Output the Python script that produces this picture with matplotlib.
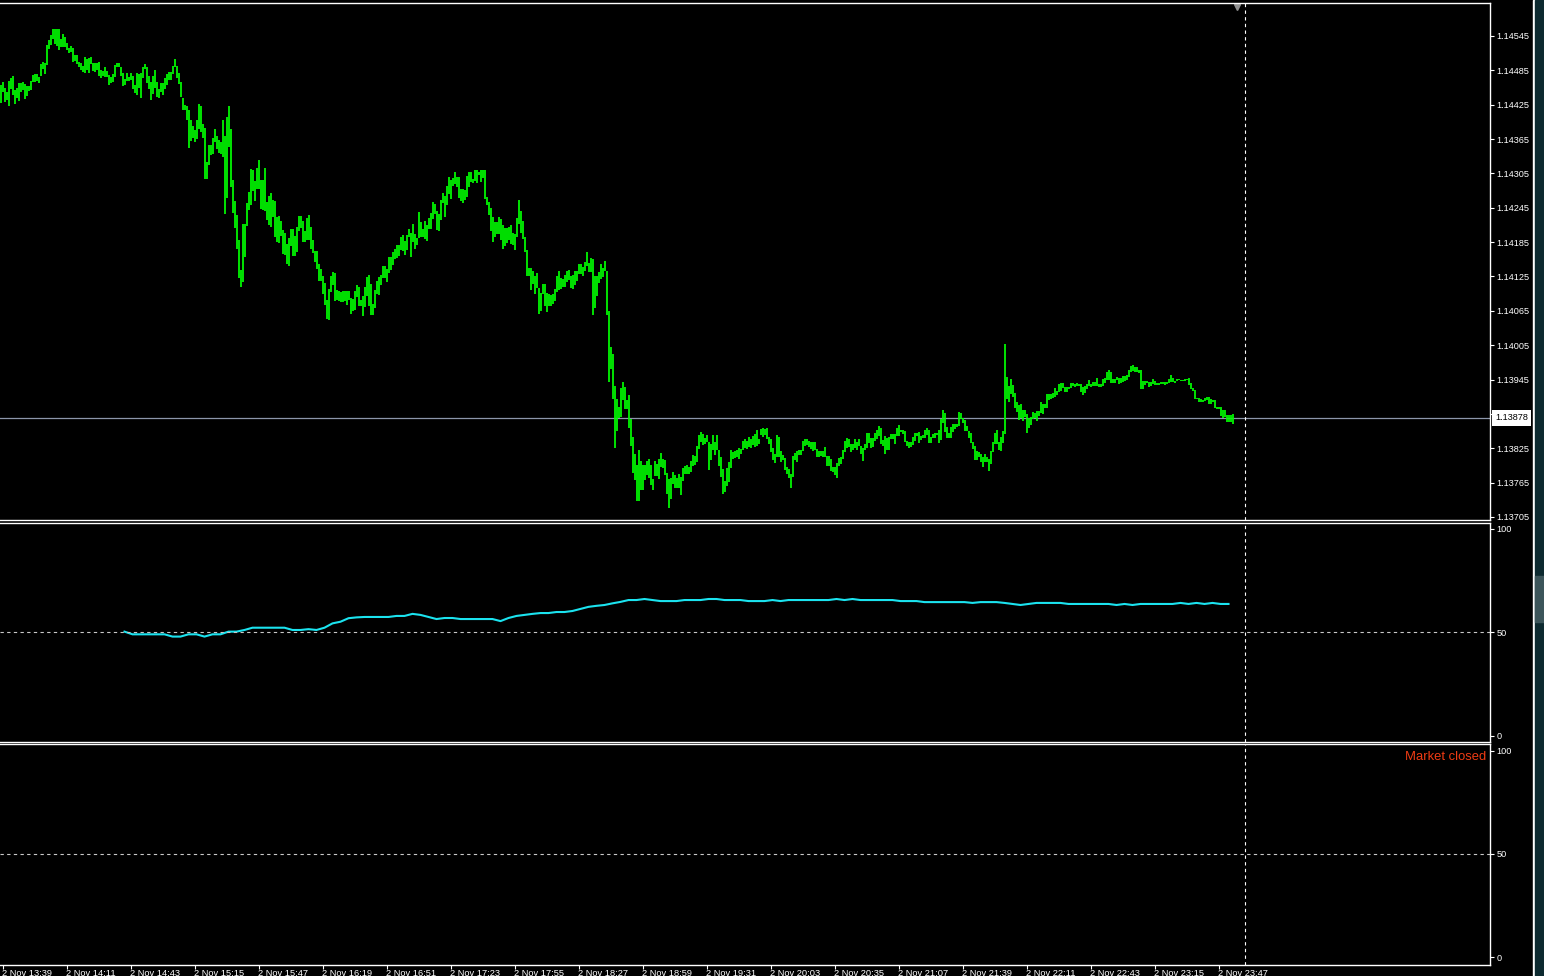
import numpy as np
import matplotlib.pyplot as plt
from matplotlib.transforms import blended_transform_factory
from matplotlib.patches import Rectangle

plt.rcParams['font.family'] = ['Liberation Sans', 'DejaVu Sans']

# prices are stored as points (0.00001) above BASE
BASE = 1.13700
POINT = 0.00001

high_pts = [
    760, 765, 754, 747, 767, 772, 775, 751, 754, 763,
    763, 765, 761, 758, 758, 767, 777, 779, 779, 773,
    796, 800, 798, 829, 838, 847, 857, 857, 857, 857,
    840, 849, 843, 833, 824, 828, 824, 812, 812, 800,
    798, 793, 808, 805, 807, 808, 798, 798, 798, 800,
    786, 784, 791, 784, 777, 774, 779, 795, 798, 798,
    791, 781, 770, 781, 774, 781, 775, 760, 781, 779,
    781, 791, 796, 791, 775, 765, 775, 786, 765, 753,
    763, 763, 772, 779, 782, 782, 793, 805, 793, 781,
    765, 737, 725, 723, 716, 698, 688, 681, 698, 726,
    723, 691, 684, 625, 655, 654, 667, 683, 671, 663,
    660, 698, 671, 704, 723, 683, 594, 557, 533, 489,
    436, 517, 517, 554, 573, 613, 611, 592, 615, 629,
    594, 594, 615, 555, 566, 571, 559, 557, 529, 531,
    522, 506, 501, 482, 492, 508, 508, 496, 511, 531,
    531, 522, 505, 527, 533, 511, 489, 470, 470, 447,
    438, 426, 413, 384, 403, 426, 433, 431, 402, 400,
    398, 400, 400, 400, 400, 388, 386, 400, 410, 407,
    384, 391, 407, 424, 428, 412, 377, 402, 417, 424,
    428, 443, 443, 438, 459, 459, 468, 473, 480, 480,
    494, 497, 487, 497, 508, 501, 517, 499, 492, 538,
    520, 508, 522, 515, 527, 536, 555, 552, 540, 534,
    559, 571, 566, 583, 599, 594, 597, 608, 599, 599,
    578, 578, 576, 601, 608, 608, 595, 611, 611, 608,
    611, 611, 611, 564, 555, 545, 529, 520, 520, 529,
    526, 515, 510, 510, 512, 515, 501, 499, 527, 559,
    540, 522, 494, 471, 440, 440, 435, 426, 431, 405,
    396, 412, 412, 396, 394, 393, 394, 403, 426, 435,
    422, 421, 428, 435, 436, 426, 428, 435, 435, 447,
    447, 442, 450, 468, 449, 457, 456, 426, 426, 433,
    447, 440, 452, 435, 365, 302, 290, 234, 211, 197,
    230, 241, 232, 209, 218, 176, 145, 115, 96, 122,
    103, 96, 96, 103, 106, 96, 71, 103, 98, 106,
    117, 106, 105, 82, 71, 73, 84, 78, 73, 80,
    75, 90, 94, 96, 92, 103, 113, 112, 129, 148,
    154, 150, 143, 148, 136, 133, 148, 136, 148, 122,
    110, 89, 68, 90, 101, 122, 119, 120, 122, 126,
    124, 138, 141, 138, 145, 141, 147, 150, 157, 141,
    159, 160, 159, 160, 145, 141, 126, 115, 148, 145,
    120, 113, 108, 92, 89, 80, 112, 117, 120, 122,
    122, 138, 141, 141, 138, 136, 136, 136, 124, 120,
    120, 120, 127, 112, 112, 106, 92, 92, 99, 108,
    110, 122, 138, 143, 141, 133, 133, 141, 136, 141,
    129, 126, 133, 152, 152, 143, 143, 152, 157, 164,
    160, 140, 147, 143, 145, 150, 150, 150, 160, 166,
    157, 157, 155, 138, 136, 136, 145, 152, 152, 154,
    147, 148, 157, 160, 157, 145, 150, 152, 152, 157,
    176, 192, 186, 162, 152, 162, 167, 167, 167, 188,
    187, 178, 174, 164, 155, 152, 136, 129, 120, 119,
    115, 110, 115, 110, 106, 120, 136, 152, 157, 136,
    145, 155, 307, 250, 234, 246, 236, 222, 206, 201,
    203, 192, 192, 185, 178, 180, 188, 187, 190, 190,
    206, 202, 202, 220, 220, 220, 222, 230, 225, 237,
    239, 239, 232, 232, 232, 239, 239, 237, 239, 237,
    237, 232, 234, 237, 244, 237, 241, 241, 248, 237,
    237, 246, 248, 258, 262, 258, 246, 246, 250, 248,
    248, 251, 251, 253, 262, 269, 270, 267, 267, 262,
    262, 243, 243, 243, 241, 241, 246, 243, 239, 239,
    241, 241, 241, 241, 246, 253, 248, 243, 246, 246,
    244, 244, 246, 246, 248, 239, 230, 227, 213, 213,
    211, 209, 213, 215, 215, 211, 209, 209, 197, 197,
    197, 192, 192, 183, 183, 183, 185,
]

low_pts = [
    728, 747, 730, 733, 723, 753, 742, 726, 737, 732,
    747, 751, 735, 740, 749, 751, 765, 765, 767, 763,
    775, 788, 779, 794, 822, 829, 840, 831, 828, 821,
    826, 826, 826, 821, 815, 817, 800, 801, 796, 791,
    786, 782, 781, 786, 781, 796, 784, 782, 786, 775,
    772, 775, 774, 774, 760, 763, 765, 774, 790, 790,
    775, 758, 760, 767, 767, 768, 753, 746, 742, 754,
    737, 772, 788, 763, 753, 733, 744, 754, 739, 737,
    747, 742, 753, 760, 768, 768, 779, 790, 772, 761,
    739, 716, 716, 698, 650, 662, 667, 660, 665, 683,
    677, 667, 595, 595, 620, 637, 639, 660, 648, 641,
    639, 634, 534, 562, 651, 582, 536, 510, 473, 422,
    407, 415, 459, 513, 541, 550, 574, 557, 578, 578,
    543, 541, 540, 524, 515, 512, 529, 494, 485, 484,
    496, 464, 463, 447, 443, 478, 461, 461, 468, 505,
    510, 485, 485, 489, 489, 473, 466, 450, 438, 417,
    417, 394, 375, 351, 349, 398, 410, 382, 384, 382,
    381, 381, 382, 375, 384, 360, 365, 367, 389, 374,
    374, 356, 372, 391, 374, 358, 358, 370, 395, 393,
    410, 422, 422, 415, 431, 436, 445, 456, 457, 461,
    471, 470, 463, 471, 494, 459, 485, 473, 480, 492,
    494, 494, 491, 487, 508, 508, 526, 534, 506, 505,
    524, 553, 529, 550, 569, 560, 583, 587, 581, 562,
    557, 554, 559, 564, 581, 590, 588, 592, 588, 602,
    590, 597, 560, 550, 533, 505, 485, 494, 499, 499,
    489, 473, 478, 484, 489, 482, 480, 471, 494, 517,
    501, 491, 468, 426, 426, 402, 412, 394, 405, 360,
    365, 394, 374, 363, 374, 374, 377, 382, 398, 402,
    403, 407, 407, 415, 419, 405, 403, 410, 417, 429,
    429, 426, 435, 443, 433, 433, 358, 370, 391, 414,
    421, 424, 435, 358, 241, 264, 211, 126, 155, 178,
    180, 209, 194, 194, 160, 129, 82, 70, 33, 33,
    52, 52, 70, 78, 73, 61, 52, 77, 77, 71,
    92, 91, 78, 45, 20, 37, 63, 56, 56, 56,
    43, 68, 80, 80, 80, 84, 94, 96, 101, 124,
    136, 131, 133, 136, 87, 105, 122, 113, 122, 94,
    75, 45, 49, 59, 66, 90, 106, 108, 110, 106,
    115, 122, 126, 124, 127, 126, 131, 127, 129, 133,
    148, 145, 148, 141, 133, 119, 105, 99, 110, 110,
    101, 105, 87, 80, 73, 56, 75, 105, 101, 113,
    113, 120, 129, 131, 127, 124, 120, 122, 110, 110,
    112, 110, 110, 94, 94, 85, 84, 78, 73, 94,
    98, 106, 119, 126, 127, 119, 122, 126, 122, 129,
    115, 103, 122, 126, 134, 126, 127, 138, 141, 147,
    133, 129, 115, 122, 122, 141, 141, 133, 147, 147,
    153, 150, 136, 129, 126, 127, 131, 138, 147, 134,
    140, 143, 143, 148, 134, 134, 143, 143, 148, 134,
    140, 169, 153, 143, 143, 143, 153, 159, 162, 164,
    176, 169, 155, 155, 143, 134, 124, 105, 105, 110,
    101, 92, 101, 101, 85, 98, 119, 133, 133, 122,
    120, 134, 150, 211, 206, 220, 215, 195, 188, 174,
    178, 173, 180, 152, 160, 166, 176, 178, 173, 181,
    187, 185, 195, 195, 209, 211, 213, 215, 218, 223,
    225, 230, 223, 223, 228, 230, 234, 232, 234, 234,
    223, 218, 221, 228, 234, 232, 234, 234, 234, 232,
    232, 234, 239, 244, 244, 239, 239, 239, 244, 237,
    239, 241, 243, 244, 250, 258, 260, 258, 258, 257,
    229, 229, 236, 239, 232, 234, 237, 236, 236, 236,
    237, 237, 236, 237, 239, 241, 241, 239, 243, 244,
    243, 243, 243, 244, 236, 229, 225, 211, 211, 206,
    206, 206, 208, 209, 202, 202, 206, 195, 194, 194,
    181, 178, 180, 171, 171, 171, 167,
]

last_price = 1.13878
price_ticks = [1.14545, 1.14485, 1.14425, 1.14365, 1.14305, 1.14245, 1.14185,
               1.14125, 1.14065, 1.14005, 1.13945, 1.13885, 1.13825, 1.13765, 1.13705]

time_labels = ['2 Nov 13:39', '2 Nov 14:11', '2 Nov 14:43', '2 Nov 15:15', '2 Nov 15:47',
               '2 Nov 16:19', '2 Nov 16:51', '2 Nov 17:23', '2 Nov 17:55', '2 Nov 18:27',
               '2 Nov 18:59', '2 Nov 19:31', '2 Nov 20:03', '2 Nov 20:35', '2 Nov 21:07',
               '2 Nov 21:39', '2 Nov 22:11', '2 Nov 22:43', '2 Nov 23:15', '2 Nov 23:47']
first_label_bar = 1
label_step = 32   # one bar per minute

# oscillator, one reading every 4 bars starting at bar 62
ind_start = 62
ind_step = 4
ind_vals = [
    50.3, 49.0, 49.0, 49.0, 49.0, 49.0, 47.9, 47.9, 49.0, 49.0,
    47.9, 49.0, 49.0, 50.3, 50.3, 51.1, 52.2, 52.2, 52.2, 52.2,
    52.2, 51.1, 51.1, 51.5, 51.1, 52.2, 54.3, 55.1, 56.8,
    57.2, 57.4, 57.4, 57.4, 57.4, 57.9, 57.9, 58.9, 58.4, 57.4,
    56.4, 56.9, 56.9, 56.4, 56.4, 56.4, 56.4, 56.4, 55.4, 56.9,
    57.9, 58.4, 58.9, 59.3, 59.3, 59.8, 59.8, 60.3, 61.3, 62.3,
    62.8, 63.2, 64.0, 64.7, 65.6, 65.6, 66.1, 65.6, 65.1, 65.1,
    65.1, 65.6, 65.6, 65.6, 66.1, 66.1, 65.6, 65.6, 65.6, 65.1,
    65.1, 65.1, 65.6, 65.1, 65.6, 65.6, 65.6, 65.6, 65.6, 65.6,
    66.1, 65.6, 66.1, 65.6, 65.6, 65.6, 65.6, 65.6,
    65.1, 65.1, 65.1, 64.6, 64.6, 64.6, 64.6, 64.6, 64.6, 64.2,
    64.6, 64.6, 64.6, 64.2, 63.7, 63.2, 63.7, 64.2, 64.2, 64.2,
    64.2, 63.7, 63.7, 63.7, 63.7, 63.7, 63.7, 63.2, 63.7, 63.2,
    63.7, 63.7, 63.7, 63.7, 63.7, 64.2, 63.7, 64.2, 63.7, 64.2,
    63.7, 63.7,
]
ind_levels = [0, 50, 100]

assert len(high_pts) == len(low_pts)

W, H = 1544, 976
fig = plt.figure(figsize=(W / 100, H / 100), dpi=100, facecolor='black')


def px_axes(x0, y0, x1, y1):
    ax = fig.add_axes([x0 / W, 1 - y1 / H, (x1 - x0) / W, (y1 - y0) / H])
    ax.set_facecolor('black')
    for side in ['top', 'right', 'bottom']:
        ax.spines[side].set_color('white')
        ax.spines[side].set_linewidth(1.0)
    ax.spines['left'].set_visible(False)
    ax.tick_params(axis='y', left=False, labelleft=False, right=True, labelright=True,
                   colors='white', length=3, width=0.8, pad=1.5, labelsize=6.6)
    ax.tick_params(axis='x', bottom=False, labelbottom=False)
    # 2 px per bar, bar centres on pixel centres
    ax.set_xlim(-0.25, -0.25 + (x1 - x0) / 2.0)
    return ax


bars = np.arange(len(high_pts))
highs = BASE + np.array(high_pts) * POINT
lows = BASE + np.array(low_pts) * POINT
shift_bar = 622
dash = (0, (3, 3))

# main price window
ax = px_axes(0, 3.3, 1490.3, 520)
k = (price_ticks[0] - price_ticks[-1]) / 481.0
ax.set_ylim(price_ticks[-1] - 3 * k, price_ticks[0] + 32.7 * k)
ax.vlines(bars, lows, highs, color='#00ff00', linewidth=1.25)
ax.axhline(last_price, color='#8c96aa', linewidth=0.9, zorder=1)
ax.set_yticks(price_ticks)
ax.set_yticklabels([f'{p:.5f}' for p in price_ticks])
ax.axvline(shift_bar, color='white', linewidth=0.8, linestyle=dash)
ax.plot([618], [0.993], marker='v', markersize=5, color='#909090',
        transform=blended_transform_factory(ax.transData, ax.transAxes), clip_on=False)
tr = blended_transform_factory(ax.transAxes, ax.transData)
ax.text(1495 / 1490.3, last_price, f'{last_price:.5f}', transform=tr, ha='left', va='center',
        fontsize=6.6, color='black', zorder=10,
        bbox=dict(boxstyle='square,pad=0.35', fc='white', ec='none'))

# oscillator window
ax1 = px_axes(0, 522.7, 1490.3, 741.7)
ax1.set_ylim(-3.0, 103.05)
ind_x = ind_start + ind_step * np.arange(len(ind_vals))
ax1.plot(ind_x, ind_vals, color='#1be3ef', linewidth=1.5)
ax1.axhline(50, color='#c8c8c8', linewidth=0.8, linestyle=dash)
ax1.set_yticks(ind_levels)
ax1.set_yticklabels([str(v) for v in ind_levels])
ax1.axvline(shift_bar, color='white', linewidth=0.8, linestyle=dash)

# empty window (market closed)
ax2 = px_axes(0, 744.3, 1490.3, 964.5)
ax2.set_ylim(-3.6, 103.2)
ax2.axhline(50, color='#c8c8c8', linewidth=0.8, linestyle=dash)
ax2.set_yticks(ind_levels)
ax2.set_yticklabels([str(v) for v in ind_levels])
ax2.axvline(shift_bar, color='white', linewidth=0.8, linestyle=dash)
ax2.text(0.9971, 0.942, 'Market closed', transform=ax2.transAxes, ha='right', va='center',
         fontsize=9.4, color='#f03c14')
tick_bars = first_label_bar + label_step * np.arange(len(time_labels))
ax2.set_xticks(tick_bars)
ax2.set_xticklabels(time_labels, ha='left')
ax2.tick_params(axis='x', bottom=True, labelbottom=True, colors='white', length=3,
                width=0.8, pad=0.5, labelsize=6.7)

# right edge strip
fig.patches.append(Rectangle((1533 / W, 0), 1.5 / W, 1, transform=fig.transFigure,
                             color='white', zorder=5))
fig.patches.append(Rectangle((1534.5 / W, 0), 9.5 / W, 1, transform=fig.transFigure,
                             color='#0d2a30', zorder=5))
fig.patches.append(Rectangle((1535 / W, 1 - 622 / H), 9 / W, 46 / H, transform=fig.transFigure,
                             color='#3c555a', zorder=6))

fig.savefig('out.png', dpi=100, facecolor='black')
